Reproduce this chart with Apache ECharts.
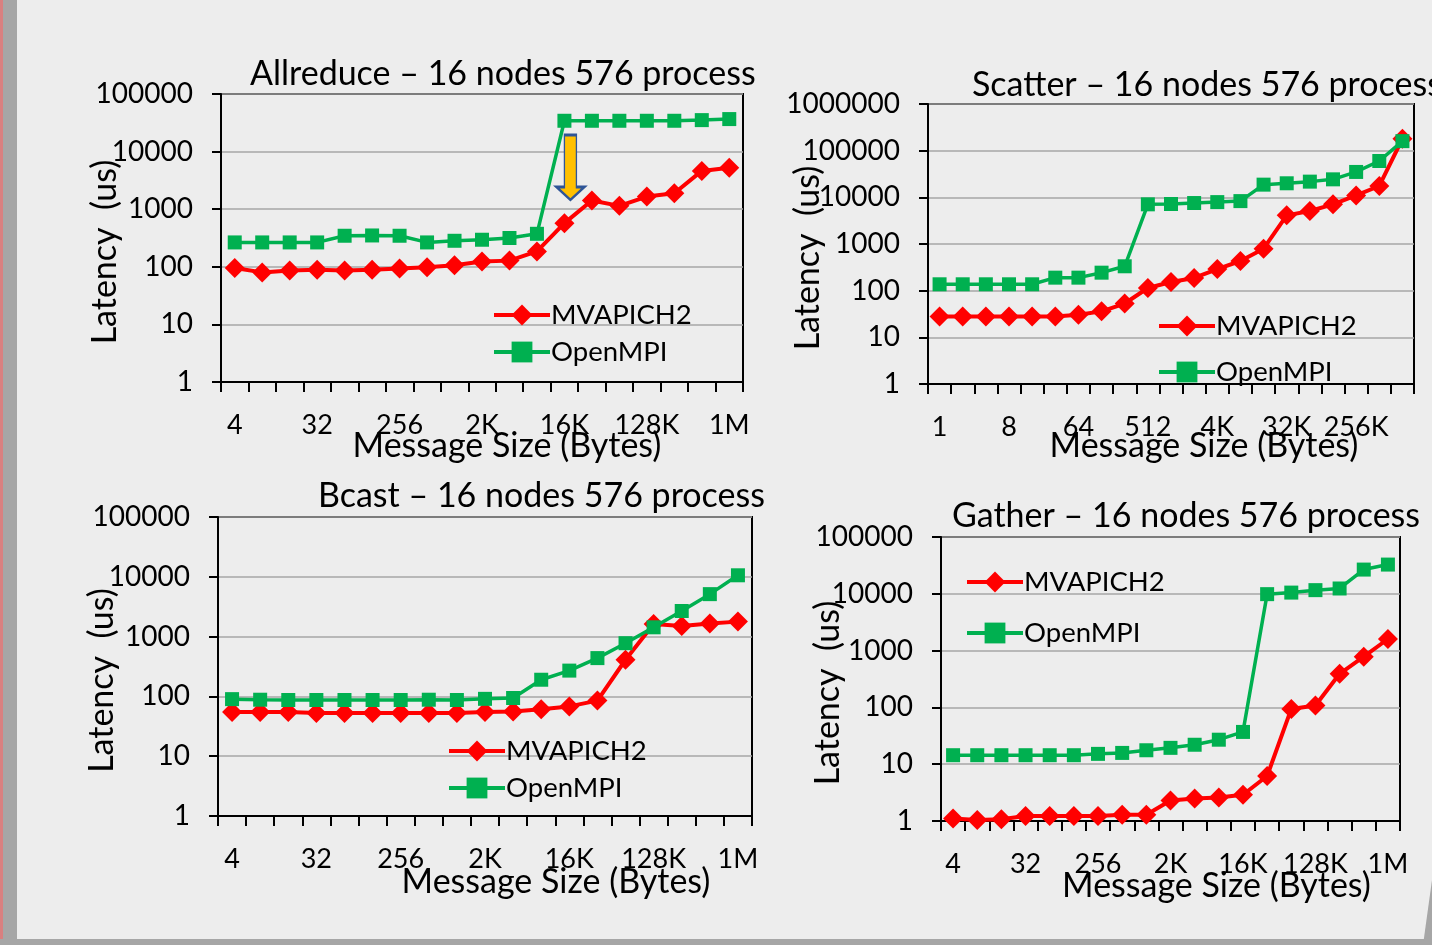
<!DOCTYPE html>
<html>
<head>
<meta charset="utf-8">
<script src="https://cdn.jsdelivr.net/npm/echarts@6/dist/echarts.min.js"></script>
<style>
html,body{margin:0;padding:0;background:#EDEDED;}
#c{width:1432px;height:945px;}
</style>
</head>
<body>
<div id="c"></div>
<script>
// ---- data ----
const sizes4to1M = ['4','8','16','32','64','128','256','512','1K','2K','4K','8K','16K','32K','64K','128K','256K','512K','1M'];
const sizes1to1M = ['1','2','4','8','16','32','64','128','256','512','1K','2K','4K','8K','16K','32K','64K','128K','256K','512K','1M'];

const allreduceMV = [95,80,86,89,86,89,93,98,106,124,128,185,573,1420,1143,1660,1890,4620,5260];
const allreduceOM = [265,265,265,265,346,350,346,265,283,295,316,374,34300,34300,34300,34300,34300,35200,36700];

const scatterMV = [28,28,28,28,28,28,30.6,36,53,114,153,187,291,432,794,4110,5100,7080,11000,17500,180000];
const scatterOM = [137,137,137,137,137,190,190,243,333,7080,7200,7550,7900,8300,18700,20000,21700,24300,35000,60000,160000];

const bcastMV = [55,55,55,53,53,53,53,53,53,55,56,61,68,85,410,1630,1500,1660,1780];
const bcastOM = [90,88,87,87,87,87,87,88,87,91,94,190,270,437,776,1430,2680,5130,10600];

const gatherMV = [1.11,1.04,1.07,1.22,1.22,1.22,1.22,1.29,1.29,2.3,2.5,2.6,2.9,6.2,94,108,390,780,1600];
const gatherOM = [14.4,14.4,14.4,14.4,14.4,14.4,15.2,15.8,17.6,19.4,22,27,37,9860,10500,11600,12400,26700,32700];

const titles = ['Allreduce – 16 nodes 576 process','Scatter – 16 nodes 576 process','Bcast – 16 nodes 576 process','Gather – 16 nodes 576 process'];
const seriesNames = ['MVAPICH2','OpenMPI'];
const xName = 'Message Size (Bytes)';
const yName = 'Latency  (us)';

// ---- layout ----
const FONT = 'Lato';
const RED = '#FF0000', GREEN = '#00B050';
const grids = [
  {left:221, top:94, width:522, height:288},
  {left:928, top:104, width:486, height:280},
  {left:218, top:517, width:534, height:299},
  {left:941, top:537, width:459, height:284}
];
const cats = [sizes4to1M, sizes1to1M, sizes4to1M, sizes4to1M];
const ymax = [100000, 1000000, 100000, 100000];
const dataMV = [allreduceMV, scatterMV, bcastMV, gatherMV];
const dataOM = [allreduceOM, scatterOM, bcastOM, gatherOM];
const xNameGap = [47, 45, 49, 48];
const xNameShift = [50, 66, 142, 92];
const yNameGap = [99, 103, 99, 96];
const titlePos = [{left:250, top:57},{left:972, top:68},{left:318, top:479},{left:952, top:499}];
const legendPos = [{left:492, top:301, gap:9},{left:1157, top:312, gap:18},{left:447, top:737, gap:9},{left:965, top:568, gap:23}];

const option = {
  backgroundColor:'#EDEDED',
  animation:false,
  textStyle:{fontFamily:FONT},
  title: titles.map((t,i)=>({text:t, left:titlePos[i].left, top:titlePos[i].top, padding:0,
    textStyle:{fontFamily:FONT, fontSize:34, fontWeight:'normal', color:'#000'}})),
  legend: legendPos.map((p,i)=>({
    data:seriesNames, orient:'vertical', left:p.left, top:p.top, itemGap:p.gap,
    itemWidth:56, itemHeight:26, padding:0,
    lineStyle:{width:4},
    textStyle:{fontFamily:FONT, fontSize:27.5, color:'#000', padding:[0,0,0,-4]}
  })),
  grid: grids.map(g=>Object.assign({show:true, borderColor:'#000', borderWidth:2, backgroundColor:'transparent'}, g)),
  xAxis: cats.map((c,i)=>({
    type:'category', gridIndex:i, data:c, boundaryGap:true,
    name:xName, nameLocation:'middle', nameGap:xNameGap[i], nameMoveOverlap:false,
    nameTextStyle:{fontFamily:FONT, fontSize:34, color:'#000', padding:[0,0,0,xNameShift[i]]},
    axisLine:{lineStyle:{color:'#000', width:2}},
    axisTick:{show:true, interval:0, length:10, lineStyle:{color:'#000', width:2}},
    axisLabel:{interval:2, fontFamily:FONT, fontSize:27, color:'#000', margin:30}
  })),
  yAxis: ymax.map((m,i)=>({
    type:'log', logBase:10, gridIndex:i, min:1, max:m,
    name:yName, nameLocation:'middle', nameGap:yNameGap[i], nameMoveOverlap:false,
    nameTextStyle:{fontFamily:FONT, fontSize:34, color:'#000', padding:[0,28,0,0]},
    axisLine:{show:true, lineStyle:{color:'#000', width:2}},
    axisTick:{show:true, length:9, lineStyle:{color:'#000', width:2}},
    minorTick:{show:false},
    splitLine:{show:true, lineStyle:{color:'#A6A6A6', width:1.5}},
    axisLabel:{fontFamily:FONT, fontSize:28, color:'#000', margin:28,
      formatter:v=>String(Math.round(v))}
  })),
  series: []
};

for (let i=0;i<4;i++){
  const mv = {
    name:seriesNames[0], type:'line', xAxisIndex:i, yAxisIndex:i, data:dataMV[i],
    symbol:'diamond', symbolSize:20, color:RED, showAllSymbol:true,
    lineStyle:{color:RED, width:4}, itemStyle:{color:RED}, z:3
  };
  if (i===0){
    mv.markPoint = {
      silent:true,
      data:[{coord:['16K', 5300], symbol:'path://M8,0 L20,0 L20,52 L28,52 L14,65 L0,52 L8,52 Z',
        symbolSize:[28,65], symbolOffset:[6,0],
        itemStyle:{color:'#FFC000', borderColor:'#2F5597', borderWidth:2},
        label:{show:false}}]
    };
  }
  option.series.push(mv);
  option.series.push({
    name:seriesNames[1], type:'line', xAxisIndex:i, yAxisIndex:i, data:dataOM[i],
    symbol:'rect', symbolSize:14, color:GREEN, showAllSymbol:true,
    lineStyle:{color:GREEN, width:3.5}, itemStyle:{color:GREEN}, z:4
  });
}

option.graphic = [
  {type:'rect', shape:{x:0,y:0,width:3,height:945}, style:{fill:'#D98080'}, silent:true},
  {type:'rect', shape:{x:3,y:0,width:14,height:945}, style:{fill:'#A6A6A6'}, silent:true},
  {type:'rect', shape:{x:0,y:939,width:1432,height:6}, style:{fill:'#A6A6A6'}, silent:true},
  {type:'polygon', shape:{points:[[1432,880],[1432,945],[1423,945]]}, style:{fill:'#A6A6A6'}, silent:true}
];

const chart = echarts.init(document.getElementById('c'));
chart.setOption(option);
</script>
</body>
</html>
